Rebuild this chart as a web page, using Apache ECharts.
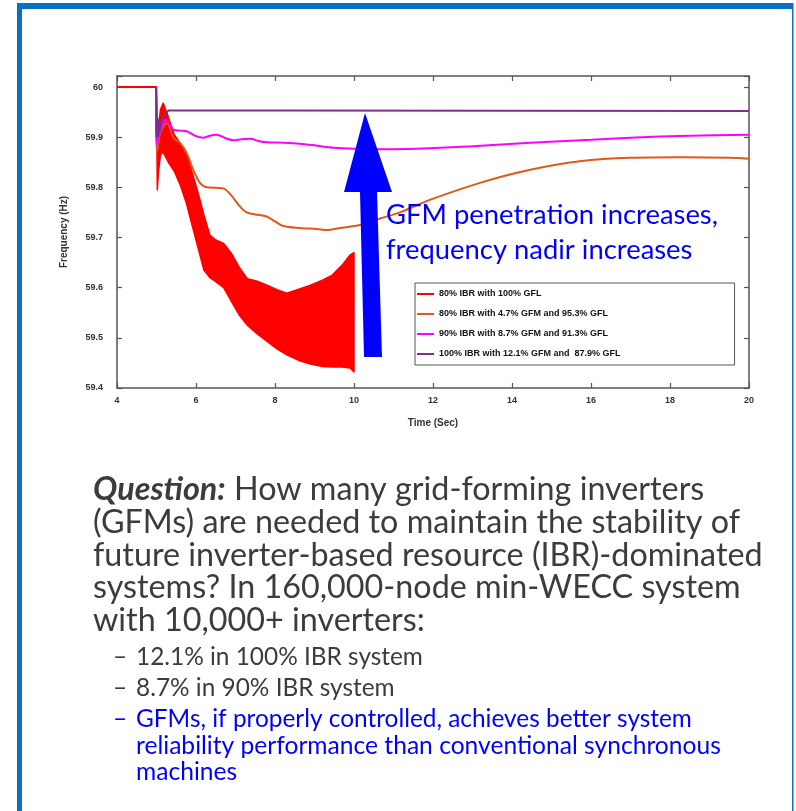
<!DOCTYPE html>
<html>
<head>
<meta charset="utf-8">
<title>GFM frequency</title>
<script src="https://cdn.jsdelivr.net/npm/echarts@6/dist/echarts.min.js"></script>
<style>
  html, body { margin: 0; padding: 0; background: #fff; }
  #main { width: 796px; height: 811px; }
</style>
</head>
<body>
<div id="main"></div>
<script>
// 图例名称
let seriesNames = [
  '80% IBR with 100% GFL',
  '80% IBR with 4.7% GFM and 95.3% GFL',
  '90% IBR with 8.7% GFM and 91.3% GFL',
  '100% IBR with 12.1% GFM and  87.9% GFL'
]
let seriesColors = ['#ff0000', '#e0581c', '#ff00ff', '#7e2f8e']

// 80% IBR 100% GFL -- 振荡带的上下包络
let redTime = [4, 5.0, 5.02, 5.05, 5.1, 5.17, 5.3, 5.45, 5.6, 5.75, 5.9, 6.05, 6.2, 6.35, 6.5, 6.7, 6.9, 7.1, 7.3, 7.55, 7.8, 8.05, 8.3, 8.6, 8.9, 9.2, 9.45, 9.7, 9.9, 10.0]
let redUpper = [60, 60, 59.93, 59.92, 59.955, 59.968, 59.94, 59.905, 59.888, 59.868, 59.83, 59.79, 59.745, 59.705, 59.695, 59.688, 59.668, 59.64, 59.618, 59.613, 59.605, 59.596, 59.589, 59.597, 59.605, 59.615, 59.625, 59.645, 59.665, 59.67]
let redLower = [60, 60, 59.795, 59.83, 59.865, 59.87, 59.85, 59.832, 59.805, 59.77, 59.725, 59.68, 59.635, 59.62, 59.612, 59.6, 59.572, 59.545, 59.525, 59.508, 59.493, 59.478, 59.466, 59.455, 59.448, 59.443, 59.442, 59.442, 59.44, 59.432]

// 80% IBR 4.7% GFM
let orangeTime = [4, 4.99, 5.0, 5.03, 5.1, 5.26, 5.43, 5.59, 5.76, 5.93, 6.1, 6.27, 6.52, 6.69, 6.86, 7.11, 7.28, 7.5, 7.79, 8.0, 8.21, 8.63, 9.06, 9.31, 9.65, 10.15, 10.66, 11.16, 11.92, 13.19, 14.46, 15.72, 16.99, 18.25, 19.52, 20]
let orangeFreq = [60, 60, 59.87, 59.88, 59.91, 59.929, 59.899, 59.889, 59.869, 59.835, 59.809, 59.8, 59.799, 59.798, 59.787, 59.762, 59.75, 59.746, 59.742, 59.732, 59.723, 59.719, 59.717, 59.715, 59.719, 59.725, 59.738, 59.75, 59.775, 59.809, 59.835, 59.852, 59.859, 59.86, 59.859, 59.857]

// 90% IBR 8.7% GFM
let magentaTime = [4, 4.99, 5.0, 5.05, 5.15, 5.22, 5.3, 5.43, 5.6, 5.76, 6.0, 6.18, 6.35, 6.52, 6.75, 6.94, 7.15, 7.37, 7.6, 7.79, 8.21, 8.63, 9.06, 9.48, 10.0, 11.0, 11.92, 13.0, 14.46, 16.0, 17.0, 18.5, 20]
let magentaFreq = [60, 60, 59.885, 59.9, 59.925, 59.935, 59.93, 59.915, 59.913, 59.912, 59.902, 59.899, 59.903, 59.905, 59.898, 59.894, 59.896, 59.897, 59.892, 59.89, 59.889, 59.887, 59.883, 59.879, 59.877, 59.876, 59.878, 59.882, 59.889, 59.895, 59.899, 59.903, 59.905]

// 100% IBR 12.1% GFM
let purpleTime = [4, 4.99, 5.0, 5.02, 5.04, 5.06, 5.08, 5.12, 5.2, 5.3, 8, 20]
let purpleFreq = [60, 60, 59.9, 59.94, 59.9, 59.935, 59.91, 59.93, 59.945, 59.953, 59.953, 59.952]

// 坐标轴
let xMin = 4, xMax = 20, xStep = 2
let yMin = 59.4, yMax = 60.022, yStep = 0.1

// 文字
let noteLines = ['GFM penetration increases,', 'frequency nadir increases']
let questionLines = [
  '{q|Question:} How many grid-forming inverters',
  '(GFMs) are needed to maintain the stability of',
  'future inverter-based resource (IBR)-dominated',
  'systems? In 160,000-node min-WECC system',
  'with 10,000+ inverters:'
]
let bulletLines = [
  '12.1% in 100% IBR system',
  '8.7% in 90% IBR system',
  'GFMs, if properly controlled, achieves better system'
]
let bulletMore = ['reliability performance than conventional synchronous', 'machines']

function pairs(xs, ys) {
  let out = []
  for (let i = 0; i < xs.length; i++) out.push([xs[i], ys[i]])
  return out
}

// 红色振荡带：上包络 + 反向下包络 组成多边形
function renderBand(params, api) {
  let pts = []
  for (let i = 0; i < redTime.length; i++) pts.push(api.coord([redTime[i], redUpper[i]]))
  for (let i = redTime.length - 1; i >= 0; i--) pts.push(api.coord([redTime[i], redLower[i]]))
  return {
    type: 'polygon',
    shape: { points: pts },
    style: { fill: seriesColors[0], stroke: seriesColors[0], lineWidth: 1.5, lineJoin: 'round' }
  }
}

const chart = echarts.init(document.getElementById('main'), null, { renderer: 'canvas' })

const axisColor = '#555'
const tickFont = { fontFamily: 'Liberation Sans', fontWeight: 'bold', fontSize: 9, color: '#333' }
const nameFont = { fontFamily: 'Liberation Sans', fontWeight: 'bold', fontSize: 10, color: '#333' }

function yLabel(v) {
  let k = v / yStep
  if (Math.abs(k - Math.round(k)) > 1e-6) return ''
  return Math.abs(v - 60) < 1e-6 ? '60' : v.toFixed(1)
}

// 文字图形
let graphics = []
// 蓝色边框
graphics.push({ type: 'rect', shape: { x: 17, y: 3, width: 5, height: 810 }, style: { fill: '#0872c0' }, z: 100 })
graphics.push({ type: 'rect', shape: { x: 17, y: 3, width: 776, height: 6 }, style: { fill: '#0872c0' }, z: 100 })
graphics.push({ type: 'rect', shape: { x: 792, y: 3, width: 1.5, height: 810 }, style: { fill: '#0872c0' }, z: 100 })
// 蓝色箭头
graphics.push({
  type: 'polygon',
  shape: { points: [[365, 113], [392, 192], [377, 192], [382, 357], [364, 357], [360, 192], [344, 192]] },
  style: { fill: '#0000ff' },
  z: 100
})
noteLines.forEach((t, i) => {
  graphics.push({
    type: 'text', x: 386, y: 215 + i * 35, z: 100,
    style: { text: t, fill: '#0000ff', font: '27.4px Lato', verticalAlign: 'middle' }
  })
})
questionLines.forEach((t, i) => {
  graphics.push({
    type: 'text', x: 93, y: 490 + i * 32.6, z: 100,
    style: {
      text: t, fill: '#3c3c3c', fontFamily: 'Lato', fontSize: 32.3, verticalAlign: 'middle',
      rich: { q: { fontFamily: 'Lato', fontSize: 32.3, fontWeight: 'bold', fontStyle: 'italic', fill: '#3c3c3c' } }
    }
  })
})
bulletLines.forEach((t, i) => {
  let c = i == 2 ? '#0000ff' : '#3c3c3c'
  graphics.push({ type: 'text', x: 113, y: 657 + i * 31, z: 100, style: { text: '–', fill: c, font: '24.4px Lato', verticalAlign: 'middle' } })
  graphics.push({ type: 'text', x: 136, y: 657 + i * 31, z: 100, style: { text: t, fill: c, font: '24.4px Lato', verticalAlign: 'middle' } })
})
bulletMore.forEach((t, i) => {
  graphics.push({ type: 'text', x: 136, y: 746 + i * 26.5, z: 100, style: { text: t, fill: '#0000ff', font: '24.6px Lato', verticalAlign: 'middle' } })
})

const option = {
  animation: false,
  backgroundColor: '#fff',
  grid: { left: 117, right: 47, top: 76, bottom: 423 },
  legend: {
    data: seriesNames,
    orient: 'vertical',
    left: 415,
    top: 283,
    icon: 'rect',
    itemWidth: 17,
    itemHeight: 2,
    itemGap: 0,
    padding: [1, 114, 1, 2],
    borderColor: '#555',
    borderWidth: 1,
    backgroundColor: '#fff',
    textStyle: { fontFamily: 'Liberation Sans', fontWeight: 'bold', fontSize: 9, color: '#111', lineHeight: 12, padding: [0, 0, 8, 0] }
  },
  xAxis: [{
    type: 'value', min: xMin, max: xMax, interval: xStep,
    name: 'Time (Sec)', nameLocation: 'middle', nameGap: 30,
    nameTextStyle: nameFont,
    axisLine: { lineStyle: { color: axisColor, width: 1.5 } },
    axisTick: { inside: true, length: 5, lineStyle: { color: axisColor, width: 1.2 } },
    axisLabel: Object.assign({ margin: 8 }, tickFont),
    splitLine: { show: false }
  }, {
    type: 'value', position: 'top', min: xMin, max: xMax, interval: xStep,
    axisLine: { lineStyle: { color: axisColor, width: 1.5 } },
    axisTick: { inside: true, length: 5, lineStyle: { color: axisColor, width: 1.2 } },
    axisLabel: { show: false },
    splitLine: { show: false }
  }],
  yAxis: [{
    type: 'value', min: yMin, max: yMax, interval: yStep,
    name: 'Frequency (Hz)', nameLocation: 'middle', nameGap: 48,
    nameTextStyle: nameFont,
    axisLine: { show: true, lineStyle: { color: axisColor, width: 1.5 } },
    axisTick: { show: true, inside: true, length: 5, lineStyle: { color: axisColor, width: 1.2 } },
    axisLabel: Object.assign({ margin: 14, formatter: yLabel }, tickFont),
    splitLine: { show: false }
  }, {
    type: 'value', position: 'right', min: yMin, max: yMax, interval: yStep,
    axisLine: { show: true, lineStyle: { color: axisColor, width: 1.5 } },
    axisTick: { show: true, inside: true, length: 5, lineStyle: { color: axisColor, width: 1.2 } },
    axisLabel: { show: false },
    splitLine: { show: false }
  }],
  series: [
    {
      name: seriesNames[0], type: 'custom', coordinateSystem: 'cartesian2d',
      data: [[redTime[0], redUpper[0]]],
      renderItem: renderBand,
      itemStyle: { color: seriesColors[0] },
      clip: true
    },
    {
      name: seriesNames[1], type: 'line', symbol: 'none', smooth: 0.3,
      data: pairs(orangeTime, orangeFreq),
      lineStyle: { color: seriesColors[1], width: 2 },
      itemStyle: { color: seriesColors[1] }
    },
    {
      name: seriesNames[2], type: 'line', symbol: 'none', smooth: 0.3,
      data: pairs(magentaTime, magentaFreq),
      lineStyle: { color: seriesColors[2], width: 2 },
      itemStyle: { color: seriesColors[2] }
    },
    {
      name: seriesNames[3], type: 'line', symbol: 'none',
      data: pairs(purpleTime, purpleFreq),
      lineStyle: { color: seriesColors[3], width: 2 },
      itemStyle: { color: seriesColors[3] }
    },
    {
      // 扰动前 60Hz 段，红色在最上层
      name: seriesNames[0], type: 'line', symbol: 'none', silent: true,
      data: pairs(redTime.slice(0, 2), redUpper.slice(0, 2)),
      lineStyle: { color: seriesColors[0], width: 2 },
      itemStyle: { color: seriesColors[0] }
    }
  ],
  graphic: graphics
}

chart.setOption(option)
</script>
</body>
</html>
